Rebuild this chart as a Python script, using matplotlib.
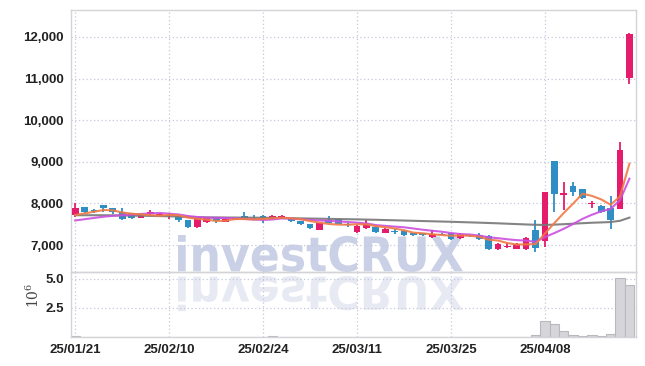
import numpy as np
import matplotlib
matplotlib.use("Agg")
import matplotlib.pyplot as plt
from matplotlib.textpath import TextPath
from matplotlib.patches import PathPatch
from matplotlib.font_manager import FontProperties
from matplotlib.transforms import Affine2D

# daily prices (KRW), 25/01/21 .. 25/04/21
opens = [7721, 7913, 7830, 7961, 7880, 7800, 7770, 7640, 7740, 7720,
         7700, 7705, 7600, 7440, 7545, 7640, 7560, 7600, 7700, 7640,
         7700, 7625, 7630, 7640, 7575, 7505, 7360, 7600, 7617, 7505,
         7305, 7400, 7440, 7296, 7345, 7345, 7280, 7296, 7185, 7260,
         7280, 7160, 7230, 7240, 7216, 6897, 6950, 6911, 6897, 7360,
         7103, 9019, 8210, 8425, 8346, 7995, 7937, 7880, 7865, 11022]
closes = [7889, 7793, 7810, 7880, 7800, 7625, 7650, 7720, 7790, 7740,
          7720, 7600, 7440, 7640, 7640, 7575, 7625, 7640, 7640, 7600,
          7625, 7705, 7705, 7575, 7495, 7400, 7520, 7535, 7505, 7473,
          7457, 7510, 7320, 7385, 7312, 7240, 7233, 7233, 7265, 7240,
          7137, 7265, 7210, 7137, 6897, 7024, 6970, 7024, 7160, 6935,
          8281, 8226, 8240, 8281, 8137, 8020, 7800, 7600, 9284, 12072]
highs = [8010, 7913, 7870, 7961, 7880, 7880, 7780, 7730, 7830, 7760,
         7760, 7705, 7600, 7650, 7660, 7650, 7640, 7660, 7785, 7720,
         7710, 7730, 7720, 7650, 7580, 7510, 7530, 7700, 7630, 7520,
         7470, 7600, 7450, 7400, 7380, 7360, 7290, 7300, 7360, 7290,
         7290, 7300, 7250, 7280, 7230, 7060, 7040, 7040, 7200, 7600,
         8281, 9019, 8522, 8520, 8346, 8060, 7960, 8180, 9483, 12090]
lows = [7673, 7760, 7780, 7800, 7745, 7590, 7620, 7640, 7700, 7700,
        7630, 7560, 7400, 7420, 7530, 7540, 7550, 7590, 7630, 7590,
        7520, 7615, 7620, 7560, 7480, 7380, 7350, 7530, 7500, 7440,
        7300, 7390, 7300, 7280, 7270, 7220, 7210, 7220, 7180, 7230,
        7130, 7150, 7200, 7120, 6890, 6890, 6930, 6900, 6890, 6840,
        6945, 7800, 7841, 8180, 8100, 7880, 7760, 7377, 7865, 10863]

# moving averages
ma5 = [7720, 7760, 7800, 7840, 7834, 7782, 7753, 7735, 7717, 7705,
       7724, 7714, 7658, 7628, 7608, 7579, 7584, 7624, 7624, 7616,
       7626, 7642, 7655, 7642, 7621, 7576, 7539, 7505, 7491, 7487,
       7498, 7496, 7453, 7429, 7397, 7353, 7298, 7281, 7257, 7242,
       7222, 7228, 7223, 7198, 7129, 7107, 7048, 7010, 7015, 7023,
       7274, 7525, 7768, 7993, 8233, 8181, 8096, 7968, 8168, 8955]
ma10 = [7590, 7620, 7650, 7680, 7700, 7715, 7730, 7745, 7760, 7770,
        7753, 7734, 7697, 7673, 7657, 7652, 7649, 7641, 7626, 7612,
        7603, 7613, 7640, 7633, 7619, 7601, 7591, 7580, 7567, 7554,
        7537, 7518, 7479, 7460, 7442, 7426, 7397, 7367, 7343, 7320,
        7288, 7263, 7252, 7227, 7186, 7164, 7138, 7117, 7106, 7076,
        7190, 7286, 7389, 7504, 7628, 7727, 7810, 7868, 8080, 8594]
ma60 = [7715, 7716, 7716, 7715, 7713, 7710, 7707, 7703, 7699, 7695,
        7690, 7683, 7675, 7668, 7665, 7663, 7661, 7660, 7658, 7657,
        7655, 7652, 7648, 7644, 7640, 7636, 7632, 7628, 7624, 7620,
        7616, 7611, 7606, 7600, 7594, 7588, 7582, 7576, 7570, 7564,
        7558, 7551, 7544, 7537, 7529, 7521, 7512, 7503, 7494, 7486,
        7482, 7490, 7500, 7512, 7524, 7535, 7543, 7552, 7582, 7658]

# volume in millions
volume = [0.06, 0.02, 0.02, 0.02, 0.02, 0.02, 0.02, 0.02, 0.02, 0.02,
          0.02, 0.02, 0.02, 0.02, 0.02, 0.02, 0.02, 0.02, 0.02, 0.02,
          0.02, 0.06, 0.02, 0.02, 0.02, 0.02, 0.02, 0.02, 0.02, 0.02,
          0.02, 0.02, 0.02, 0.02, 0.02, 0.02, 0.02, 0.02, 0.02, 0.02,
          0.02, 0.02, 0.02, 0.02, 0.03, 0.02, 0.02, 0.02, 0.03, 0.15,
          1.38, 1.12, 0.52, 0.17, 0.06, 0.17, 0.06, 0.26, 5.06, 4.48]

tick_idx = [0, 10, 20, 30, 40, 50]
tick_labels = ["25/01/21", "25/02/10", "25/02/24", "25/03/11", "25/03/25", "25/04/08"]
price_ticks = [7000, 8000, 9000, 10000, 11000, 12000]
vol_ticks = [2.5, 5.0]

UP = "#e51c6b"
DOWN = "#2f8fc5"
GRID = "#c5c8dc"
FRAME = "#d3d3d8"
TXT = "#222222"
tick_font = ["Liberation Sans", "DejaVu Sans"]

fig = plt.figure(figsize=(6.45, 3.66), dpi=100)
W, H = 645, 366
ax = fig.add_axes([71 / W, 1 - 272 / H, (636 - 71) / W, (272 - 10) / H])
axv = fig.add_axes([71 / W, 1 - 337 / H, (636 - 71) / W, (337 - 272) / H], sharex=ax)
for a in (ax, axv):
    a.set_facecolor("none")
    for s in a.spines.values():
        s.set_color(FRAME)
        s.set_linewidth(1.0)
    a.tick_params(length=0, labelsize=9.5, colors=TXT, pad=5)
    a.grid(True, color=GRID, linestyle=(0, (1, 2)), linewidth=0.9)
    a.set_axisbelow(True)

# watermark with reflection
fp = FontProperties(family="DejaVu Sans", weight="bold")
tp = TextPath((0, 0), "investCRUX", prop=fp)
ext = tp.get_extents()
sx = (463 - 178) / ext.width
sy = (272 - 235) / ext.height
t_main = Affine2D().translate(-ext.x0, -ext.y0).scale(sx, sy).translate(178, H - 272)
t_refl = Affine2D().translate(-ext.x0, -ext.y0).scale(sx, -sy * 0.95).translate(178, H - 276)
fig.add_artist(PathPatch(t_main.transform_path(tp), facecolor="#cad1e6", edgecolor="none",
                         transform=None, zorder=-1))
fig.add_artist(PathPatch(t_refl.transform_path(tp), facecolor="#e8eaf3", edgecolor="none",
                         transform=None, zorder=-1))

x = np.arange(len(closes))
o = np.array(opens)
c = np.array(closes)
colors = [UP if cc >= oo else DOWN for oo, cc in zip(o, c)]
body = np.maximum(np.abs(c - o), 18)
bottom = np.minimum(o, c) - np.where(np.abs(c - o) < 18, 9, 0)
ax.vlines(x, lows, highs, colors=colors, linewidth=1.3, zorder=2)
ax.bar(x, body, bottom=bottom, width=0.72, color=colors, zorder=3)

ax.plot(x, ma60, color="#777777", linewidth=1.5, alpha=0.9, zorder=4)
ax.plot(x, ma10, color="#cc4fe0", linewidth=1.5, alpha=0.9, zorder=4)
ax.plot(x, ma5, color="#f07a45", linewidth=1.5, alpha=0.9, zorder=4)

ax.set_ylim(6351, 12649)
ax.set_yticks(price_ticks)
ax.set_yticklabels(["{:,}".format(v) for v in price_ticks], family=tick_font, weight="bold")
ax.set_xlim(-0.45, 59.7)
ax.tick_params(labelbottom=False)

axv.bar(x, volume, width=1.0, color="#d6d6da", edgecolor="#b8b8be", linewidth=0.8, zorder=2)
axv.set_ylim(0, 5.6)
axv.set_yticks(vol_ticks)
axv.set_yticklabels(["2.5", "5.0"], family=tick_font, weight="bold")
axv.set_xticks(tick_idx)
axv.set_xticklabels(tick_labels, family=tick_font, weight="bold")

fig.text(33 / W, 1 - 295 / H, r"$10^6$", rotation=90, ha="center", va="center",
         fontsize=10, color="#444444", math_fontfamily="dejavuserif")

fig.savefig("out.png", dpi=100)
